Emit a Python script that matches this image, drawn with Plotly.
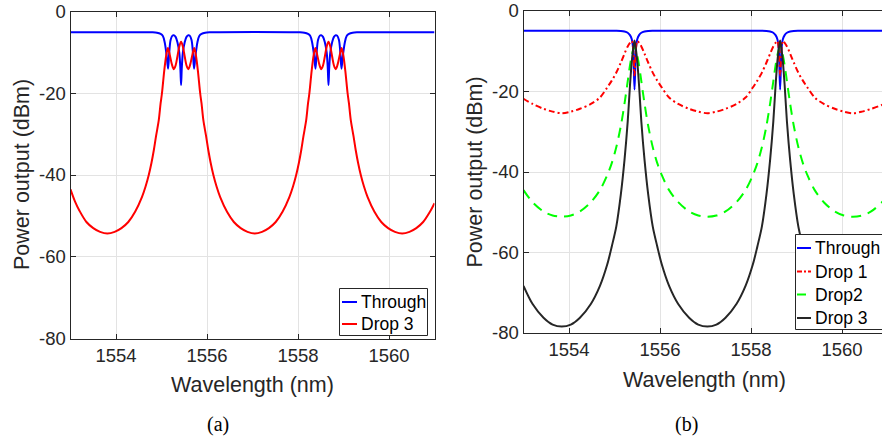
import plotly.graph_objects as go

# ---------------- Panel (a) data ----------------
wl_a_through = [1553.00, 1554.80, 1554.90, 1554.98, 1555.03, 1555.07, 1555.11, 1555.145, 1555.17, 1555.20,
                1555.24, 1555.27, 1555.31, 1555.35, 1555.39, 1555.415, 1555.43, 1555.445, 1555.47, 1555.51,
                1555.55, 1555.59, 1555.62, 1555.66, 1555.69, 1555.715, 1555.75, 1555.79, 1555.83, 1555.88,
                1555.96, 1556.06, 1558.04, 1558.14, 1558.22, 1558.27, 1558.31, 1558.35, 1558.385, 1558.41,
                1558.44, 1558.48, 1558.51, 1558.55, 1558.59, 1558.63, 1558.655, 1558.67, 1558.685, 1558.71,
                1558.75, 1558.79, 1558.83, 1558.86, 1558.90, 1558.93, 1558.955, 1558.99, 1559.03, 1559.07,
                1559.12, 1559.20, 1559.30, 1561.00]
p_a_through = [-5.1, -5.1, -5.2, -5.5, -6.0, -7.5, -10.5, -14.0, -10.0, -7.0,
               -5.9, -5.8, -6.2, -7.5, -10.0, -14.0, -18.0, -14.0, -10.0, -7.5,
               -6.2, -5.8, -5.9, -7.0, -10.0, -14.0, -10.5, -7.5, -6.0, -5.5,
               -5.2, -5.1, -5.1, -5.2, -5.5, -6.0, -7.5, -10.5, -14.0, -10.0,
               -7.0, -5.9, -5.8, -6.2, -7.5, -10.0, -14.0, -18.0, -14.0, -10.0,
               -7.5, -6.2, -5.8, -5.9, -7.0, -10.0, -14.0, -10.5, -7.5, -6.0,
               -5.5, -5.2, -5.1, -5.1]

wl_a_drop3 = [1553.00, 1553.10, 1553.20, 1553.35, 1553.50, 1553.65, 1553.81, 1553.97, 1554.12, 1554.27,
              1554.42, 1554.57, 1554.65, 1554.72, 1554.78, 1554.83, 1554.88, 1554.94, 1554.98, 1555.01,
              1555.06, 1555.10, 1555.14, 1555.18, 1555.23, 1555.27, 1555.31, 1555.35, 1555.39, 1555.43,
              1555.47, 1555.51, 1555.55, 1555.59, 1555.63, 1555.68, 1555.72, 1555.76, 1555.80, 1555.85,
              1555.88, 1555.92, 1555.98, 1556.03, 1556.08, 1556.14, 1556.21, 1556.29, 1556.44, 1556.59,
              1556.74, 1556.89, 1557.05, 1557.21, 1557.36, 1557.51, 1557.66, 1557.81, 1557.89, 1557.96,
              1558.02, 1558.07, 1558.12, 1558.18, 1558.22, 1558.25, 1558.30, 1558.34, 1558.38, 1558.42,
              1558.47, 1558.51, 1558.55, 1558.59, 1558.63, 1558.67, 1558.71, 1558.75, 1558.79, 1558.83,
              1558.87, 1558.92, 1558.96, 1559.00, 1559.04, 1559.09, 1559.12, 1559.16, 1559.22, 1559.27,
              1559.32, 1559.38, 1559.45, 1559.53, 1559.68, 1559.83, 1559.98, 1560.13, 1560.29, 1560.45,
              1560.60, 1560.75, 1560.90, 1561.00]
p_a_drop3 = [-43.5, -46.5, -48.8, -51.5, -53.0, -53.9, -54.3, -53.9, -53.0, -51.5,
             -49.0, -45.4, -42.8, -40.0, -37.0, -34.0, -30.5, -26.6, -22.5, -20.0,
             -14.5, -11.0, -8.9, -10.5, -13.0, -14.1, -13.2, -11.0, -8.6, -7.4,
             -8.6, -11.0, -13.2, -14.1, -13.0, -10.5, -8.9, -11.0, -14.5, -20.0,
             -22.5, -26.6, -30.5, -34.0, -37.0, -40.0, -42.8, -45.4, -49.0, -51.5,
             -53.0, -53.9, -54.3, -53.9, -53.0, -51.5, -49.0, -45.4, -42.8, -40.0,
             -37.0, -34.0, -30.5, -26.6, -22.5, -20.0, -14.5, -11.0, -8.9, -10.5,
             -13.0, -14.1, -13.2, -11.0, -8.6, -7.4, -8.6, -11.0, -13.2, -14.1,
             -13.0, -10.5, -8.9, -11.0, -14.5, -20.0, -22.5, -26.6, -30.5, -34.0,
             -37.0, -40.0, -42.8, -45.4, -49.0, -51.5, -53.0, -53.9, -54.3, -53.9,
             -53.0, -51.5, -49.0, -46.9]

# ---------------- Panel (b) data ----------------
wl_b = [1553.00, 1553.20, 1553.44, 1553.64, 1553.84,
        1554.04, 1554.24, 1554.48, 1554.68, 1554.84, 1554.94, 1555.04, 1555.14, 1555.22, 1555.29, 1555.34, 1555.38, 1555.41, 1555.44,
        1555.47, 1555.50, 1555.54, 1555.59, 1555.66, 1555.74, 1555.84, 1555.94, 1556.04, 1556.20, 1556.40, 1556.64, 1556.84, 1557.04,
        1557.24, 1557.44, 1557.68, 1557.88, 1558.04, 1558.14, 1558.24, 1558.34, 1558.42, 1558.49, 1558.54, 1558.58, 1558.61, 1558.64,
        1558.67, 1558.70, 1558.74, 1558.79, 1558.86, 1558.94, 1559.04, 1559.14, 1559.24, 1559.40, 1559.60, 1559.84, 1560.04, 1560.24,
        1560.44, 1560.64, 1560.88, 1561.00]
p_b_through = [-4.9, -4.9, -4.9, -4.9, -4.9,
               -4.9, -4.9, -4.9, -4.9, -4.9, -4.9, -4.9, -4.95, -5.1, -5.4, -6.0, -7.0, -9.5, -19.5,
               -9.5, -7.0, -6.0, -5.4, -5.1, -4.95, -4.9, -4.9, -4.9, -4.9, -4.9, -4.9, -4.9, -4.9,
               -4.9, -4.9, -4.9, -4.9, -4.9, -4.9, -4.9, -4.95, -5.1, -5.4, -6.0, -7.0, -9.5, -19.5,
               -9.5, -7.0, -6.0, -5.4, -5.1, -4.95, -4.9, -4.9, -4.9, -4.9, -4.9, -4.9, -4.9, -4.9,
               -4.9, -4.9, -4.9, -4.9]
p_b_drop1 = [-21.8, -23.1, -24.3, -25.0, -25.4,
             -25.0, -24.3, -23.1, -21.5, -19.0, -17.3, -15.3, -12.8, -10.6, -8.8, -7.9, -7.4, -9.5, -16.0,
             -9.5, -7.4, -7.9, -8.8, -10.6, -12.8, -15.3, -17.3, -19.0, -21.5, -23.1, -24.3, -25.0, -25.4,
             -25.0, -24.3, -23.1, -21.5, -19.0, -17.3, -15.3, -12.8, -10.6, -8.8, -7.9, -7.4, -9.5, -16.0,
             -9.5, -7.4, -7.9, -8.8, -10.6, -12.8, -15.3, -17.3, -19.0, -21.5, -23.1, -24.3, -25.0, -25.4,
             -25.0, -24.3, -23.3, -22.4]
p_b_drop2 = [-44.5, -47.5, -49.8, -50.8, -51.1,
             -50.8, -49.8, -47.5, -44.5, -40.8, -37.8, -33.8, -28.5, -23.0, -17.5, -13.5, -11.0, -9.6, -9.0,
             -9.6, -11.0, -13.5, -17.5, -23.0, -28.5, -33.8, -37.8, -40.8, -44.5, -47.5, -49.8, -50.8, -51.1,
             -50.8, -49.8, -47.5, -44.5, -40.8, -37.8, -33.8, -28.5, -23.0, -17.5, -13.5, -11.0, -9.6, -9.0,
             -9.6, -11.0, -13.5, -17.5, -23.0, -28.5, -33.8, -37.8, -40.8, -44.5, -47.5, -49.8, -50.8, -51.1,
             -50.8, -49.8, -47.5, -45.9]
p_b_drop3 = [-68.3, -72.8, -76.2, -77.9, -78.4,
             -77.9, -76.2, -72.8, -68.3, -63.0, -58.5, -53.5, -45.5, -37.0, -27.5, -18.5, -12.5, -9.5, -7.3,
             -9.5, -12.5, -18.5, -27.5, -37.0, -45.5, -53.5, -58.5, -63.0, -68.3, -72.8, -76.2, -77.9, -78.4,
             -77.9, -76.2, -72.8, -68.3, -63.0, -58.5, -53.5, -45.5, -37.0, -27.5, -18.5, -12.5, -9.5, -7.3,
             -9.5, -12.5, -18.5, -27.5, -37.0, -45.5, -53.5, -58.5, -63.0, -68.3, -72.8, -76.2, -77.9, -78.4,
             -77.9, -76.2, -72.8, -70.5]

x_ticks = [1554, 1556, 1558, 1560]
y_ticks = [0, -20, -40, -60, -80]
y_tick_text = ["0", "-20", "-40", "-60", "-80"]
x_title = "Wavelength (nm)"
y_title = "Power output (dBm)"
captions = ["(a)", "(b)"]
legend_a = ["Through", "Drop 3"]
legend_b = ["Through", "Drop 1", "Drop2", "Drop 3"]

W, H = 882, 436
SANS = "Liberation Sans, Arial, Helvetica, sans-serif"
SERIF = "Liberation Serif, Times New Roman, serif"
AX = "#262626"
GRID = "#e3e3e3"
BLUE, RED, GREEN, BLACK = "#0000FF", "#FF0000", "#00FF00", "#262626"
DASHDOT, DASH = "6px,3px,2px,3px", "10px,7px"

fig = go.Figure()

def line(x, y, color, name, xa, ya, dash="solid"):
    fig.add_trace(go.Scatter(x=x, y=y, mode="lines", name=name, showlegend=False,
                             line=dict(color=color, width=2, dash=dash, shape="spline", smoothing=0.9),
                             xaxis=xa, yaxis=ya))

line(wl_a_through, p_a_through, BLUE, legend_a[0], "x", "y")
line(wl_a_drop3, p_a_drop3, RED, legend_a[1], "x", "y")
line(wl_b, p_b_through, BLUE, legend_b[0], "x2", "y2")
line(wl_b, p_b_drop1, RED, legend_b[1], "x2", "y2", dash=DASHDOT)
line(wl_b, p_b_drop2, GREEN, legend_b[2], "x2", "y2", dash=DASH)
line(wl_b, p_b_drop3, BLACK, legend_b[3], "x2", "y2")

def xaxis(domain, rng, anchor):
    return dict(domain=domain, range=rng, tickvals=x_ticks, ticks="inside", ticklen=5,
                tickcolor=AX, showline=True, linecolor=AX, linewidth=1, mirror="ticks",
                showgrid=True, gridcolor=GRID, gridwidth=1, zeroline=False, anchor=anchor,
                tickfont=dict(family=SANS, size=18.5, color=AX),
                automargin=False, fixedrange=True)

def yaxis(domain, anchor, mirror):
    return dict(domain=domain, range=[-80, 0], tickvals=y_ticks, ticktext=y_tick_text,
                ticks="inside", ticklen=5,
                tickcolor=AX, showline=True, linecolor=AX, linewidth=1, mirror=mirror,
                showgrid=True, gridcolor=GRID, gridwidth=1, zeroline=False, anchor=anchor,
                tickfont=dict(family=SANS, size=18.5, color=AX),
                automargin=False, fixedrange=True)

xa_dom = [70.5 / W, 434.5 / W]
ya_dom = [(H - 338.5) / H, (H - 11.5) / H]
xb_dom = [523.5 / W, 1.0]
yb_dom = [(H - 333) / H, (H - 11) / H]
xb_max = 1553 + (W - 523.5) / 45.5

def px(x, y):
    return x / W, (H - y) / H

annotations = []
def text(t, x, y, size, family=SANS, color=AX, angle=0, xanchor="center"):
    ax_, ay_ = px(x, y)
    annotations.append(dict(text=t, x=ax_, y=ay_, xref="paper", yref="paper", showarrow=False,
                            textangle=angle, xanchor=xanchor, yanchor="middle",
                            font=dict(family=family, size=size, color=color)))

# axis titles
text(x_title, 252, 385, 21.5)
text(x_title, 704, 380, 21.5)
text(y_title, 22, 175, 21.5, angle=-90)
text(y_title, 474.5, 172, 21.5, angle=-90)
# captions
text(captions[0], 218, 424, 20, family=SERIF, color="#000000")
text(captions[1], 686, 424, 20, family=SERIF, color="#000000")

shapes = []
def rect(x0, y0, x1, y1):
    a0, b0 = px(x0, y0)
    a1, b1 = px(x1, y1)
    shapes.append(dict(type="rect", xref="paper", yref="paper", x0=a0, y0=b0, x1=a1, y1=b1,
                       line=dict(color=AX, width=1), fillcolor="white", layer="above"))

def seg(x0, x1, y, color, dash="solid"):
    a0, b = px(x0, y)
    a1, _ = px(x1, y)
    shapes.append(dict(type="line", xref="paper", yref="paper", x0=a0, y0=b, x1=a1, y1=b,
                       line=dict(color=color, width=2, dash=dash), layer="above"))

# legend (a)
rect(339.5, 288.5, 427.5, 335.5)
for name, col, yy in zip(legend_a, [BLUE, RED], [302, 324]):
    seg(342, 357, yy, col)
    text(name, 358.5, yy, 17.5, color="#000000", xanchor="left")

# legend (b)
rect(795.5, 234.5, 890, 329.5)
for name, col, dsh, yy in zip(legend_b, [BLUE, RED, GREEN, BLACK],
                              ["solid", "5px,2px,2px,2px", "9px,20px", "solid"],
                              [248, 271.5, 294.5, 318]):
    seg(797, 811, yy, col, dsh)
    text(name, 812.5, yy, 17.5, color="#000000", xanchor="left")

fig.update_layout(
    width=W, height=H, margin=dict(l=0, r=0, t=0, b=0, autoexpand=False),
    paper_bgcolor="white", plot_bgcolor="white", showlegend=False,
    xaxis=xaxis(xa_dom, [1553, 1561], "y"),
    yaxis=yaxis(ya_dom, "x", "ticks"),
    xaxis2=xaxis(xb_dom, [1553, xb_max], "y2"),
    yaxis2=yaxis(yb_dom, "x2", False),
    annotations=annotations, shapes=shapes,
)

fig.write_html("out.html", config={"displayModeBar": False})
